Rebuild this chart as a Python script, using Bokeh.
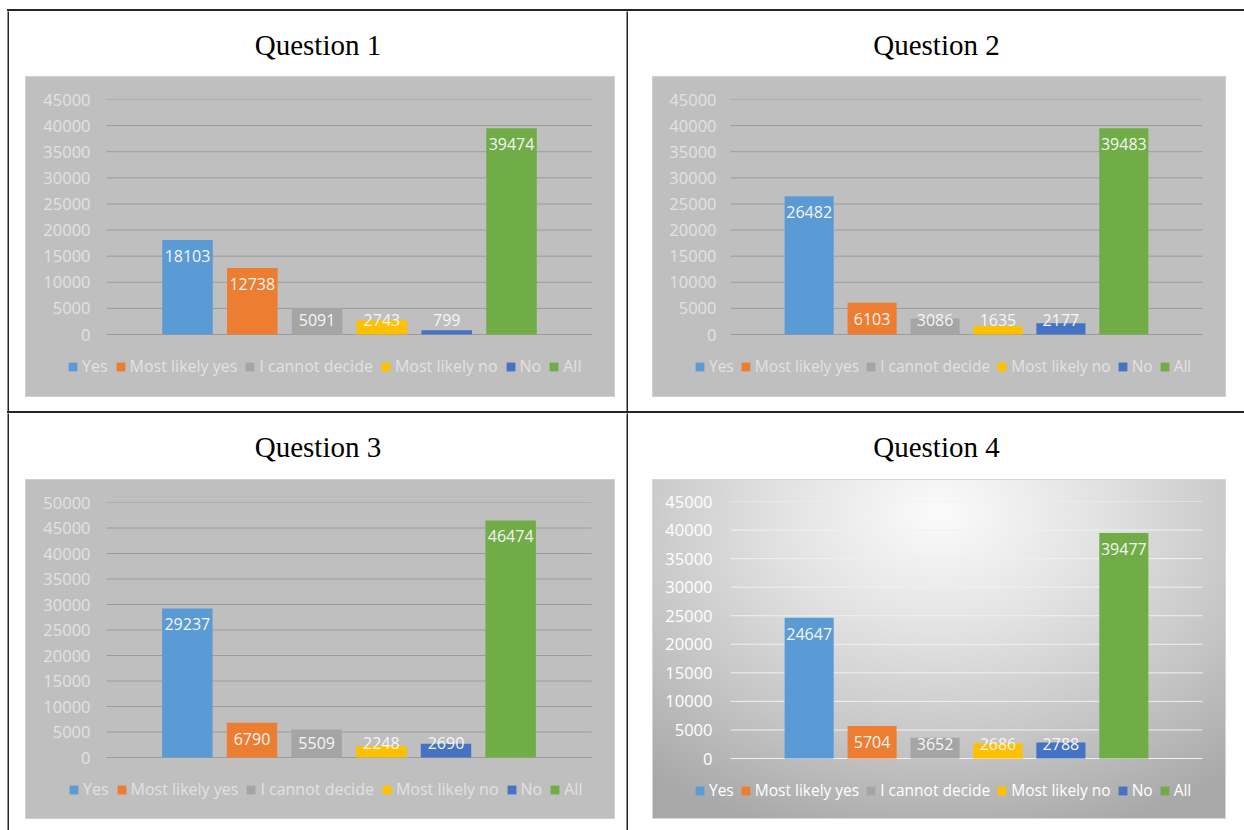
from bokeh.plotting import figure
from bokeh.layouts import column, row
from bokeh.models import (Range1d, Legend, LegendItem, ColumnDataSource, Label, FixedTicker,
                          NumeralTickFormatter, Spacer)
from bokeh.embed import file_html
from bokeh.resources import INLINE
from bokeh.core.properties import value
import numpy as np

categories = ["Yes", "Most likely yes", "I cannot decide", "Most likely no", "No", "All"]
colors = ["#5b9bd5", "#ed7d31", "#a5a5a5", "#ffc000", "#4472c4", "#70ad47"]
titles = ["Question 1", "Question 2", "Question 3", "Question 4"]
q1 = [18103, 12738, 5091, 2743, 799, 39474]
q2 = [26482, 6103, 3086, 1635, 2177, 39483]
q3 = [29237, 6790, 5509, 2248, 2690, 46474]
q4 = [24647, 5704, 3652, 2686, 2788, 39477]
y_max = [45000, 45000, 50000, 45000]
tick_step = 5000

FONT = "Open Sans"
LINE = "#262626"
GREY = "#bfbfbf"


def vblock(w, h, color=LINE):
    b = figure(width=w, height=h, min_border=0, x_axis_location=None, y_axis_location=None,
               toolbar_location=None, output_backend="svg", background_fill_color=color,
               border_fill_color=color, outline_line_color=None, x_range=Range1d(0, 1),
               y_range=Range1d(0, 1))
    b.grid.visible = False
    return b


def hblock(w, h, color=LINE):
    return Spacer(width=w, height=h, styles={"background-color": color})


def title_fig(text, w, h):
    t = figure(width=w, height=h, min_border=0, x_axis_location=None, y_axis_location=None,
               toolbar_location=None, output_backend="svg", outline_line_color=None,
               x_range=Range1d(0, 1), y_range=Range1d(0, 1),
               background_fill_color="white", border_fill_color="white")
    t.grid.visible = False
    t.add_layout(Label(x=0.5, y=0.5, text=text, text_align="center", text_baseline="middle",
                       text_font="Liberation Serif", text_font_size="29px", text_color="#000000"))
    return t


FL = 36       # frame left border (px)
FR = 6        # frame right border (px)
FB = 6        # frame bottom border (px)
PAD = 1.25    # category padding (slots) on each side of the bar group


def chart(vals, ymax, w, h, pa_left, right, top, plot_h, label_right, legend_left,
          leg_font, leg_spacing, gradient=False):
    n = len(categories)
    slot = (w - pa_left - right) / (n + 2 * PAD - 1)
    x_start = -PAD - (pa_left - FL) / slot
    x_end = n - 1 + PAD + (right - FR) / slot
    frame_h = h - top - FB
    extra = frame_h - plot_h
    y_start = -extra * ymax / plot_h
    per_px = ymax / plot_h
    ticks = list(range(0, ymax + 1, tick_step))

    p = figure(width=w, height=h, x_range=Range1d(x_start, x_end), y_range=Range1d(y_start, ymax),
               x_axis_location=None, output_backend="svg", toolbar_location=None,
               min_border_left=FL, min_border_right=FR, min_border_top=top,
               min_border_bottom=FB, outline_line_color=None)
    if gradient:
        p.background_fill_alpha = 0
        p.border_fill_alpha = 0
        p.styles = {"background": "radial-gradient(ellipse 80% 100% at 50% 10%, #fbfbfb 0%, #e2e2e2 35%, #c6c6c6 68%, #a8a8a8 100%)",
                    "box-shadow": "0 0 0 1px #d6d6d6"}
        tick_color = "#ffffff"
        grid_color = "#f0f0f0"
        legend_color = "#ffffff"
    else:
        p.background_fill_color = GREY
        p.border_fill_color = GREY
        p.styles = {"background-color": GREY, "box-shadow": "0 0 0 1px #d0d0d0"}
        tick_color = "#e2e2e2"
        grid_color = "#9c9c9c"
        legend_color = "#e2e2e2"
    p.grid.visible = False

    gsrc = ColumnDataSource(dict(y=ticks, x0=[-PAD] * len(ticks), x1=[n - 1 + PAD] * len(ticks)))
    p.segment(x0="x0", y0="y", x1="x1", y1="y", source=gsrc, line_color=grid_color, line_width=1)

    src = ColumnDataSource(dict(
        x=np.arange(n), cat=categories, val=vals, color=colors,
        anchor=np.maximum(np.array(vals, dtype=float), 31 * per_px),
        lbl=[str(v) for v in vals]))
    r = p.vbar(x="x", top="val", width=0.78, fill_color="color", line_color=None, source=src)
    p.text(x="x", y="anchor", text="lbl", source=src, text_align="center",
           text_baseline="middle", y_offset=16, text_color="#f6f6f6",
           text_font=value(FONT), text_font_size="16px")

    ax = p.yaxis[0]
    ax.ticker = FixedTicker(ticks=ticks)
    ax.formatter = NumeralTickFormatter(format="0")
    ax.axis_line_color = None
    ax.major_tick_line_color = None
    ax.minor_tick_line_color = None
    ax.major_tick_out = 0
    ax.major_tick_in = 0
    ax.major_label_standoff = -(label_right - FL)
    ax.major_label_text_font = FONT
    ax.major_label_text_font_size = "16.5px"
    ax.major_label_text_color = tick_color

    items = [LegendItem(label=c, renderers=[r], index=i) for i, c in enumerate(categories)]
    leg = Legend(items=items, orientation="horizontal", location=(legend_left - FL, extra - 43),
                 label_text_font=FONT, label_text_font_size=leg_font, label_text_color=legend_color,
                 glyph_width=11, glyph_height=11, label_standoff=4, spacing=leg_spacing,
                 padding=0, margin=0, background_fill_alpha=0, border_line_alpha=0,
                 label_height=20)
    p.add_layout(leg, "center")
    return p


def cell(title, vals, ymax, cw, th, lpad, w, h, bpad, pa_left, right, top, plot_h,
         label_right, legend_left, leg_font, leg_spacing, gradient=False):
    t = title_fig(title, cw, th)
    c = chart(vals, ymax, w, h, pa_left, right, top, plot_h, label_right, legend_left,
              leg_font, leg_spacing, gradient)
    return column(t,
                  row(Spacer(width=lpad, height=h), c, Spacer(width=cw - lpad - w, height=h)),
                  Spacer(width=cw, height=bpad))


c1 = cell(titles[0], q1, y_max[0], 617, 66, 17, 588, 319, 15, 80, 22, 22, 235, 64, 41, "16px", 7)
c2 = cell(titles[1], q2, y_max[1], 616, 66, 25, 572, 319, 15, 77, 23, 22, 235, 63, 41, "15.5px", 6)
c3 = cell(titles[2], q3, y_max[2], 617, 67, 17, 588, 338, 12, 80, 23, 22, 255, 64, 42, "16px", 7)
c4 = cell(titles[3], q4, y_max[3], 616, 67, 25, 572, 338, 12, 77, 23, 21, 257, 59, 41, "15.5px", 6,
          gradient=True)

root = column(
    Spacer(width=1244, height=9),
    row(Spacer(width=7, height=2), hblock(1237, 2)),
    row(Spacer(width=7, height=400), vblock(2, 400), c1, vblock(2, 400), c2),
    row(Spacer(width=7, height=2), hblock(1237, 2)),
    row(Spacer(width=7, height=417), vblock(2, 417), c3, vblock(2, 417), c4),
)

open("out.html", "w").write(file_html(root, INLINE))
